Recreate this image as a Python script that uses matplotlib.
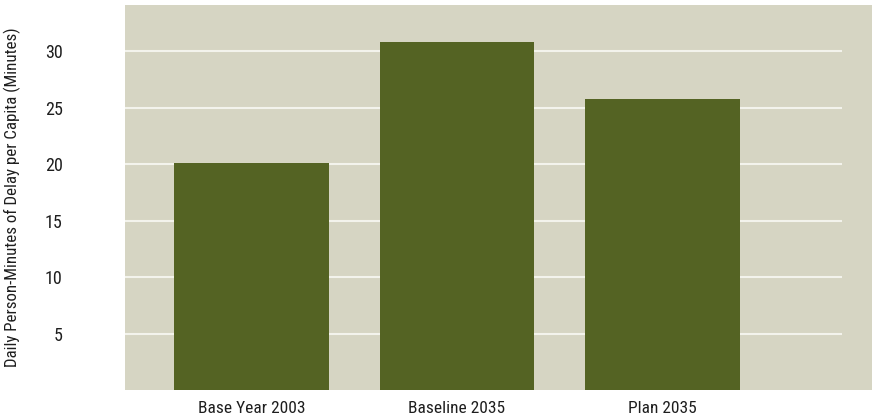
import matplotlib
matplotlib.use("Agg")
import matplotlib.pyplot as plt
from matplotlib import font_manager

# data
categories = ["Base Year 2003", "Baseline 2035", "Plan 2035"]
delay_minutes = [20.1, 30.8, 25.8]
y_ticks = [5, 10, 15, 20, 25, 30]

# pick a condensed sans, like the Helvetica Condensed of the original
names = {f.name for f in font_manager.fontManager.ttflist}
wanted = ["Liberation Sans Narrow", "Arial Narrow", "Roboto Condensed", "Archivo Narrow",
          "Open Sans Condensed", "Barlow Semi Condensed", "Asap Condensed"]
narrow = next((n for n in wanted if n in names), "DejaVu Sans")
plt.rcParams["font.family"] = [narrow, "DejaVu Sans"]

BG = "#d6d5c3"
BAR = "#546323"
GRID = "#f3f3ec"
TXT = "#1e1e1e"

fig = plt.figure(figsize=(8.72, 4.19), dpi=100)
ax = fig.add_axes([125 / 872, 29 / 419, 747 / 872, 385 / 419])
ax.set_facecolor(BG)

x = list(range(len(categories)))
ax.set_xlim(-0.616, 3.02)
ax.set_ylim(0, 34.08)

ax.hlines(y_ticks, -0.616, 2.873, colors=GRID, linewidth=1.5, zorder=1)
ax.bar(x, delay_minutes, width=0.754, color=BAR, zorder=2)

ax.set_xticks(x)
ax.set_xticklabels(categories, fontsize=12.5, color=TXT)
ax.set_yticks(y_ticks)
ax.set_yticklabels([str(v) for v in y_ticks], fontsize=13, color=TXT)
ax.tick_params(axis="both", length=0)
ax.tick_params(axis="y", pad=45)
ax.tick_params(axis="x", pad=8)
for s in ax.spines.values():
    s.set_visible(False)

ax.set_ylabel("Daily Person-Minutes of Delay per Capita (Minutes)", fontsize=12.2, color=TXT)
ax.yaxis.set_label_coords(-104 / 747, 0.5)

fig.savefig("out.png", dpi=100, facecolor="white")
